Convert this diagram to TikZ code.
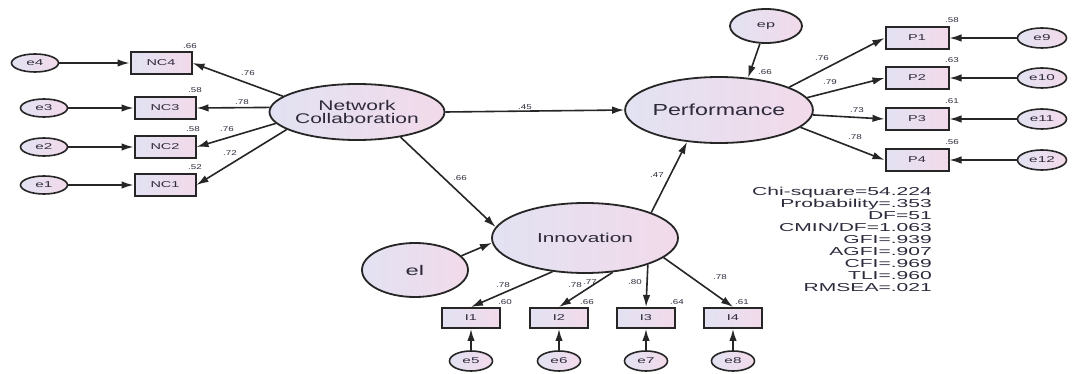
\documentclass[tikz,border=0pt]{standalone}
\usepackage{fontspec}
\setmainfont{Liberation Sans}
\usepackage{graphicx}
\usetikzlibrary{shapes.geometric,arrows.meta}
\definecolor{lav}{HTML}{E2E2F2}
\definecolor{pinkish}{HTML}{F2DAEA}
\definecolor{ink}{HTML}{262626}
\definecolor{txt}{HTML}{2E2A3C}
\newcommand\sxt[2]{\scalebox{#1}[1]{#2}}
\begin{document}
\begin{tikzpicture}[x=1pt,y=-1pt,
  lat/.style={ellipse,draw=ink,line width=1.8pt,left color=lav,right color=pinkish,inner sep=0pt,text=txt},
  err/.style={ellipse,draw=ink,line width=1.6pt,left color=lav,right color=pinkish,inner sep=0pt,minimum width=47pt,minimum height=18pt,font=\fontsize{8.5}{9}\selectfont,text=txt},
  obs/.style={rectangle,draw=ink,line width=2pt,left color=lav,right color=pinkish,inner sep=0pt,minimum width=61pt,minimum height=22pt,font=\fontsize{8.5}{9}\selectfont,text=txt},
  coef/.style={inner sep=0pt,font=\fontsize{7}{7}\selectfont,text=txt},
  arr/.style={draw=ink,line width=1.6pt,-{Latex[length=12pt,width=7.5pt]}},
]
\fill[white] (0,0) rectangle (1072,374);
\useasboundingbox (0,0) rectangle (1072,374);

% latent variables
\node[lat,minimum width=170pt,minimum height=56pt,font=\fontsize{14}{13}\selectfont,align=center] (NC) at (357,112) {\sxt{1.5}{Network}\\\sxt{1.5}{Collaboration}};
\node[lat,minimum width=185pt,minimum height=66pt,font=\fontsize{16}{16}\selectfont] (Perf) at (719,110) {\sxt{1.45}{Performance}};
\node[lat,minimum width=186pt,minimum height=70pt,font=\fontsize{13}{13}\selectfont] (Inno) at (585,238) {\sxt{1.6}{Innovation}};
\node[lat,minimum width=106pt,minimum height=54pt,font=\fontsize{14}{14}\selectfont] (el) at (415,270) {\sxt{1.7}{el}};
\node[lat,minimum width=72pt,minimum height=34pt,font=\fontsize{9}{9}\selectfont] (ep) at (766,26) {\sxt{1.8}{ep}};

% NC indicators
\node[obs] (NC4) at (161,63) {\sxt{1.7}{NC4}};
\node[obs] (NC3) at (165,108) {\sxt{1.7}{NC3}};
\node[obs] (NC2) at (165,147) {\sxt{1.7}{NC2}};
\node[obs] (NC1) at (165,185) {\sxt{1.7}{NC1}};
\node[err] (e4) at (35,63) {\sxt{1.8}{e4}};
\node[err] (e3) at (44,108) {\sxt{1.8}{e3}};
\node[err] (e2) at (44,147) {\sxt{1.8}{e2}};
\node[err] (e1) at (44,185) {\sxt{1.8}{e1}};

% P indicators
\node[obs,minimum width=63pt] (P1) at (917,38) {\sxt{1.7}{P1}};
\node[obs,minimum width=63pt] (P2) at (917,78) {\sxt{1.7}{P2}};
\node[obs,minimum width=63pt] (P3) at (917,119) {\sxt{1.7}{P3}};
\node[obs,minimum width=63pt] (P4) at (917,160) {\sxt{1.7}{P4}};
\node[err,minimum width=49pt,minimum height=20pt] (e9) at (1042,38) {\sxt{1.8}{e9}};
\node[err,minimum width=49pt,minimum height=20pt] (e10) at (1042,78) {\sxt{1.8}{e10}};
\node[err,minimum width=49pt,minimum height=20pt] (e11) at (1042,119) {\sxt{1.8}{e11}};
\node[err,minimum width=49pt,minimum height=20pt] (e12) at (1042,160) {\sxt{1.8}{e12}};

% I indicators
\node[obs,minimum width=58pt,minimum height=20pt] (I1) at (471,318) {\sxt{1.7}{I1}};
\node[obs,minimum width=58pt,minimum height=20pt] (I2) at (559,318) {\sxt{1.7}{I2}};
\node[obs,minimum width=58pt,minimum height=20pt] (I3) at (646,318) {\sxt{1.7}{I3}};
\node[obs,minimum width=58pt,minimum height=20pt] (I4) at (733,318) {\sxt{1.7}{I4}};
\node[err,minimum width=43pt,minimum height=20pt] (e5) at (471,361) {\sxt{1.8}{e5}};
\node[err,minimum width=43pt,minimum height=20pt] (e6) at (559,361) {\sxt{1.8}{e6}};
\node[err,minimum width=43pt,minimum height=20pt] (e7) at (646,361) {\sxt{1.8}{e7}};
\node[err,minimum width=43pt,minimum height=20pt] (e8) at (733,361) {\sxt{1.8}{e8}};

% connectors
\draw[arr] (e4.east) -- (NC4.west);
\draw[arr] (e3.east) -- (NC3.west);
\draw[arr] (e2.east) -- (NC2.west);
\draw[arr] (e1.east) -- (NC1.west);
\draw[arr] (NC.168) -- (NC4.east);
\draw[arr] (NC.177) -- (NC3.east);
\draw[arr] (NC.188) -- (NC2.east);
\draw[arr] (NC.194) -- (NC1.east);

\draw[arr] (NC.east) -- (Perf.west);
\draw[arr] (NC.-30) -- (Inno.173);
\draw[arr] (Inno.21) -- (Perf.-135);
\draw[arr] (el.17) -- (Inno.183);
\draw[arr] (ep.-109) -- (Perf.48);

\draw[arr] (Perf.18) -- (P1.west);
\draw[arr] (Perf.8) -- (P2.west);
\draw[arr] (Perf.-3) -- (P3.west);
\draw[arr] (Perf.-12) -- (P4.west);
\draw[arr] (e9.west) -- (P1.east);
\draw[arr] (e10.west) -- (P2.east);
\draw[arr] (e11.west) -- (P3.east);
\draw[arr] (e12.west) -- (P4.east);

\draw[arr] (Inno.-134) -- (I1.north);
\draw[arr] (Inno.-51) -- (I2.north);
\draw[arr] (Inno.-23.4) -- (I3.north);
\draw[arr] (Inno.-14) -- (I4.north);
\draw[arr] (e5.north) -- (I1.south);
\draw[arr] (e6.north) -- (I2.south);
\draw[arr] (e7.north) -- (I3.south);
\draw[arr] (e8.north) -- (I4.south);

% coefficient labels
\node[coef] (r1) at (190,46) {\sxt{1.4}{.66}};
\node[coef] (r2) at (195,90) {\sxt{1.4}{.58}};
\node[coef] (r3) at (193,129) {\sxt{1.4}{.58}};
\node[coef] (r4) at (195,167) {\sxt{1.4}{.52}};
\node[coef] (l1) at (248,73) {\sxt{1.4}{.76}};
\node[coef] (l2) at (242,102) {\sxt{1.4}{.78}};
\node[coef] (l3) at (227,129) {\sxt{1.4}{.76}};
\node[coef] (l4) at (230,153) {\sxt{1.4}{.72}};
\node[coef] (s1) at (525,107) {\sxt{1.4}{.45}};
\node[coef] (s2) at (460,178) {\sxt{1.4}{.66}};
\node[coef] (s3) at (657,175) {\sxt{1.4}{.47}};
\node[coef] (s4) at (765,72) {\sxt{1.4}{.66}};
\node[coef] (rp1) at (952,20) {\sxt{1.4}{.58}};
\node[coef] (rp2) at (952,60) {\sxt{1.4}{.63}};
\node[coef] (rp3) at (952,101) {\sxt{1.4}{.61}};
\node[coef] (rp4) at (952,142) {\sxt{1.4}{.56}};
\node[coef] (lp1) at (822,58) {\sxt{1.4}{.76}};
\node[coef] (lp2) at (830,82) {\sxt{1.4}{.79}};
\node[coef] (lp3) at (857,110) {\sxt{1.4}{.73}};
\node[coef] (lp4) at (855,137) {\sxt{1.4}{.78}};
\node[coef] (li1) at (503,285) {\sxt{1.4}{.78}};
\node[coef] (ri1) at (505,302) {\sxt{1.4}{.60}};
\node[coef] (li2) at (575,285) {\sxt{1.4}{.78}};
\node[coef] (li2b) at (590,282) {\sxt{1.4}{.77}};
\node[coef] (ri2) at (587,302) {\sxt{1.4}{.66}};
\node[coef] (li3) at (635,282) {\sxt{1.4}{.80}};
\node[coef] (ri3) at (677,302) {\sxt{1.4}{.64}};
\node[coef] (li4) at (720,277) {\sxt{1.4}{.78}};
\node[coef] (ri4) at (742,302) {\sxt{1.4}{.61}};

% fit statistics
\node[anchor=north east,inner sep=0pt,text=txt,font=\fontsize{11.5}{12}\selectfont] (fit) at (932,187) {\sxt{1.83}{\begin{tabular}{@{}r@{}}Chi-square=54.224\\Probability=.353\\DF=51\\CMIN/DF=1.063\\GFI=.939\\AGFI=.907\\CFI=.969\\TLI=.960\\RMSEA=.021\end{tabular}}};
\end{tikzpicture}
\end{document}
